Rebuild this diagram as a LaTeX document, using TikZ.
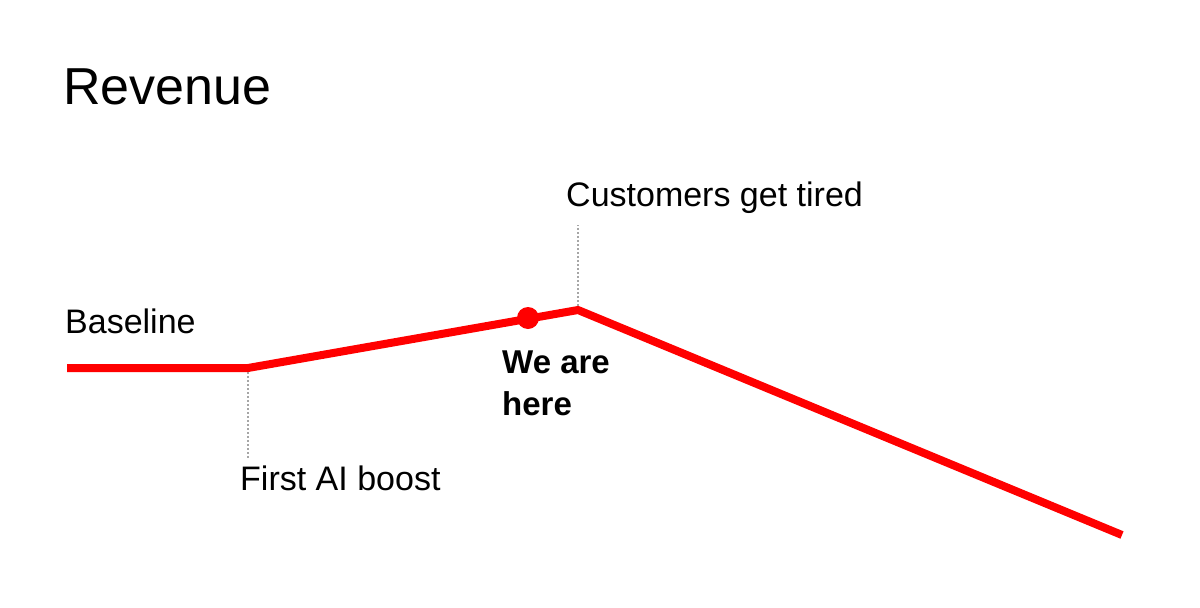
\documentclass[tikz,border=0pt]{standalone}
\usepackage{fontspec}
\setmainfont{Liberation Sans}
\begin{document}
\begin{tikzpicture}[x=1pt,y=-1pt,
  lbl/.style={anchor=base west,inner sep=0,font=\fontsize{34}{40}\selectfont},
  guide/.style={gray!70,line width=1.5pt,dash pattern=on 2pt off 2pt},
  rev/.style={red,line width=8pt,line join=round}]
\useasboundingbox (0,0) rectangle (1200,608);
\node[lbl,font=\fontsize{52}{62}\selectfont] (title) at (63,104) {Revenue};
\node[lbl] (base) at (65,333) {Baseline};
\node[lbl] (boost) at (240,490) {First AI boost};
\node[lbl] (tired) at (566,206) {Customers get tired};
\node[lbl,font=\fontsize{33}{42}\selectfont\bfseries,align=left,anchor=north west] (here) at (502,351) {We are\\here};
\coordinate (p0) at (67,368);
\coordinate (p1) at (248,368);
\coordinate (p2) at (578,310);
\coordinate (p3) at (1122,535);
\coordinate (g1) at (248,458);
\coordinate (g2) at (578,225);
\draw[guide] (p1) -- (g1);
\draw[guide] (p2) -- (g2);
\draw[rev] (p0) -- (p1) -- (p2) -- (p3);
\node[circle,fill=red,minimum size=22pt,inner sep=0] (dot) at (528,318) {};
\end{tikzpicture}
\end{document}
